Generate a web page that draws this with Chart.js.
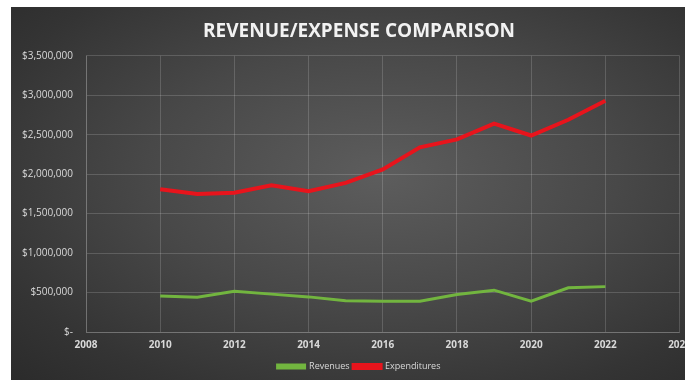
<!DOCTYPE html>
<html>
  <head>
    <title>Revenue/Expense Comparison</title>
    <script src="https://cdn.jsdelivr.net/npm/chart.js"></script>
    <style>
      body {
        margin: 0;
        background: #ffffff;
      }
      #frame {
        position: absolute;
        left: 11px;
        top: 7px;
        width: 674px;
        height: 373px;
        overflow: hidden;
        background: radial-gradient(
          ellipse at 55% 45%,
          #5d5d5d 0%,
          #484848 45%,
          #343434 80%,
          #2b2b2b 100%
        );
      }
      #chart {
        position: absolute;
        left: 0;
        top: 0;
      }
    </style>
  </head>
  <body>
    <div id="frame">
      <canvas id="chart" width="687" height="373"></canvas>
    </div>

    <script>
      var years = [2010, 2011, 2012, 2013, 2014, 2015, 2016, 2017, 2018, 2019, 2020, 2021, 2022];

      var revenues = [
        455000, 440000, 515000, 480000, 445000, 395000, 390000, 390000,
        475000, 530000, 390000, 560000, 575000,
      ];

      var expenditures = [
        1810000, 1750000, 1765000, 1860000, 1785000, 1890000, 2060000,
        2340000, 2440000, 2640000, 2490000, 2690000, 2930000,
      ];

      var xTicks = [2008, 2010, 2012, 2014, 2016, 2018, 2020, 2022, 2024];
      var yTicks = [0, 500000, 1000000, 1500000, 2000000, 2500000, 3000000, 3500000];

      function toPoints(vals) {
        return years.map(function (y, i) {
          return { x: y, y: vals[i] };
        });
      }

      var labelColor = "#d9d9d9";
      var gridColor = "rgba(255, 255, 255, 0.16)";

      var ctx = document.getElementById("chart").getContext("2d");

      var myChart = new Chart(ctx, {
        type: "line",
        data: {
          datasets: [
            {
              label: "Revenues",
              data: toPoints(revenues),
              borderColor: "#72b53f",
              backgroundColor: "#72b53f",
              borderWidth: 3,
              pointRadius: 0,
              tension: 0,
            },
            {
              label: "Expenditures",
              data: toPoints(expenditures),
              borderColor: "#e8141c",
              backgroundColor: "#e8141c",
              borderWidth: 4,
              pointRadius: 0,
              tension: 0,
            },
          ],
        },
        options: {
          responsive: false,
          animation: false,
          layout: {
            padding: { left: 9, right: 0, top: 4, bottom: -1 },
          },
          scales: {
            x: {
              type: "linear",
              min: xTicks[0],
              max: xTicks[xTicks.length - 1],
              afterBuildTicks: function (axis) {
                axis.ticks = xTicks.map(function (v) {
                  return { value: v };
                });
              },
              grid: { color: gridColor, drawTicks: false },
              border: { color: gridColor },
              ticks: {
                color: labelColor,
                padding: 7,
                maxRotation: 0,
                font: { family: "Open Sans", size: 10, weight: "bold" },
                callback: function (v) {
                  return String(v);
                },
              },
            },
            y: {
              min: yTicks[0],
              max: yTicks[yTicks.length - 1],
              afterBuildTicks: function (axis) {
                axis.ticks = yTicks.map(function (v) {
                  return { value: v };
                });
              },
              afterFit: function (axis) {
                axis.width = 66;
              },
              grid: { color: gridColor, drawTicks: false },
              border: { color: gridColor },
              ticks: {
                color: labelColor,
                padding: 13,
                font: { family: "Open Sans", size: 10 },
                callback: function (v) {
                  if (v === 0) return "$-";
                  return "$" + v.toLocaleString("en-US");
                },
              },
            },
          },
          plugins: {
            title: {
              display: true,
              text: "REVENUE/EXPENSE COMPARISON",
              color: "#f2f2f2",
              font: { family: "Open Sans", size: 19, weight: "bold" },
              padding: { top: 9, bottom: 13 },
            },
            legend: {
              position: "bottom",
              labels: {
                color: labelColor,
                boxWidth: 27,
                boxHeight: 3,
                padding: 4,
                font: { family: "Open Sans", size: 9 },
              },
            },
            tooltip: { enabled: false },
          },
        },
      });
    </script>
  </body>
</html>
